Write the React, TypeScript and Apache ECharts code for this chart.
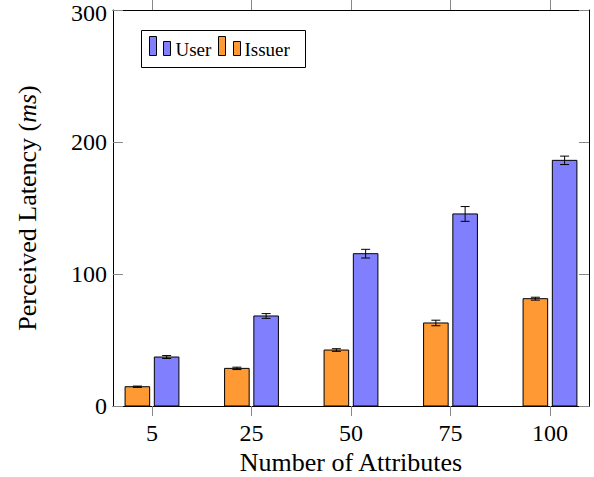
import React, { useEffect, useRef } from "react";
import * as echarts from "echarts";

const categories = ["5", "25", "50", "75", "100"];
const issuerValues = [14.6, 28.5, 42.4, 62.9, 81.3];
const issuerErrors = [0.5, 0.9, 1.0, 2.1, 1.1];
const userValues = [37.1, 68.2, 115.4, 145.5, 186.1];
const userErrors = [1.1, 1.8, 3.3, 5.6, 3.2];
const yTicks = [0, 100, 200, 300];

const FONT = "'Liberation Serif', 'Times New Roman', serif";
const ORANGE = "#ff9933";
const BLUE = "#8080ff";
const BAR_W = 0.247;
const OFFSET = 0.147;
const CAP = 4.5;

function makeRender(off: number, color: string) {
  return (params: any, api: any) => {
    const x = api.value(0);
    const y = api.value(1);
    const e = api.value(2);
    const top = api.coord([x + off, y]);
    const base = api.coord([x + off, 0]);
    const hi = api.coord([x + off, y + e]);
    const lo = api.coord([x + off, y - e]);
    const w = api.size([BAR_W, 0])[0];
    const cx = top[0];
    return {
      type: "group",
      children: [
        {
          type: "rect",
          shape: { x: cx - w / 2, y: top[1], width: w, height: base[1] - top[1] },
          style: { fill: color, stroke: "#000", lineWidth: 1 },
        },
        {
          type: "line",
          shape: { x1: cx, y1: hi[1], x2: cx, y2: lo[1] },
          style: { stroke: "#000", lineWidth: 1 },
        },
        {
          type: "line",
          shape: { x1: cx - CAP, y1: hi[1], x2: cx + CAP, y2: hi[1] },
          style: { stroke: "#000", lineWidth: 1 },
        },
        {
          type: "line",
          shape: { x1: cx - CAP, y1: lo[1], x2: cx + CAP, y2: lo[1] },
          style: { stroke: "#000", lineWidth: 1 },
        },
      ],
    };
  };
}

export default function App() {
  const ref = useRef<HTMLDivElement>(null);
  useEffect(() => {
    if (!ref.current) return;
    const chart = echarts.init(ref.current, null, { renderer: "svg" });
    const idx = categories.map((_, i) => i);
    const tickStyle = { color: "#888", width: 1 };
    const lineStyle = { color: "#000", width: 1 };
    const yMax = yTicks[yTicks.length - 1];
    const option: any = {
      animation: false,
      grid: { left: 113, right: 5, top: 10, bottom: 71, containLabel: false, outerBoundsMode: "none" },
      xAxis: [
        {
          type: "value",
          position: "bottom",
          min: -0.392,
          max: 4.392,
          axisLine: { show: true, onZero: false, lineStyle },
          axisTick: { show: true, customValues: idx, inside: false, length: 10, lineStyle: tickStyle },
          axisLabel: {
            show: true,
            customValues: idx,
            formatter: (v: number) => categories[Math.round(v)] ?? "",
            fontFamily: FONT,
            fontSize: 24,
            lineHeight: 20,
            color: "#000",
            margin: 17,
          },
          splitLine: { show: false },
          name: "Number of Attributes",
          nameLocation: "middle",
          nameGap: 42,
          nameTextStyle: { fontFamily: FONT, fontSize: 26, lineHeight: 20, color: "#000" },
        },
        {
          type: "value",
          position: "top",
          min: -0.392,
          max: 4.392,
          axisLine: { show: true, onZero: false, lineStyle },
          axisTick: { show: true, customValues: idx, inside: false, length: 10, lineStyle: tickStyle },
          axisLabel: { show: false },
          splitLine: { show: false },
        },
      ],
      yAxis: [
        {
          type: "value",
          position: "left",
          min: 0,
          max: 300,
          interval: 100,
          axisLine: { show: true, onZero: false, lineStyle },
          axisTick: { show: true, customValues: yTicks, inside: true, length: 10, lineStyle: tickStyle },
          axisLabel: {
            show: true,
            customValues: yTicks,
            formatter: (v: number) => (v === yMax ? `{t|${v}}` : `{n|${v}}`),
            rich: {
              n: { fontFamily: FONT, fontSize: 24, lineHeight: 18, color: "#000" },
              t: { fontFamily: FONT, fontSize: 24, lineHeight: 18, color: "#000", padding: [6, 0, 0, 0] },
            },
            fontFamily: FONT,
            fontSize: 24,
            color: "#000",
            margin: 6,
          },
          splitLine: { show: false },
          name: "{a|Perceived Latency (}{i|ms}{a|)}",
          nameLocation: "middle",
          nameGap: 73,
          nameTextStyle: {
            rich: {
              a: { fontFamily: FONT, fontSize: 26, color: "#000" },
              i: { fontFamily: FONT, fontSize: 26, color: "#000", fontStyle: "italic" },
            },
          },
        },
        {
          type: "value",
          position: "right",
          min: 0,
          max: 300,
          interval: 100,
          axisLine: { show: true, onZero: false, lineStyle },
          axisTick: { show: true, customValues: yTicks, inside: true, length: 10, lineStyle: tickStyle },
          axisLabel: { show: false },
          splitLine: { show: false },
        },
      ],
      series: [
        {
          name: "Issuer",
          type: "custom",
          xAxisIndex: 0,
          yAxisIndex: 0,
          encode: { x: 0, y: 1 },
          renderItem: makeRender(-OFFSET, ORANGE),
          data: issuerValues.map((v, i) => [i, v, issuerErrors[i]]),
          clip: true,
        },
        {
          name: "User",
          type: "custom",
          xAxisIndex: 0,
          yAxisIndex: 0,
          encode: { x: 0, y: 1 },
          renderItem: makeRender(OFFSET, BLUE),
          data: userValues.map((v, i) => [i, v, userErrors[i]]),
          clip: true,
        },
      ],
      graphic: [
        {
          type: "group",
          left: 141,
          top: 30,
          children: [
            {
              type: "rect",
              shape: { x: 0, y: 0, width: 164, height: 37 },
              style: { fill: "#fff", stroke: "#000", lineWidth: 1 },
            },
            { type: "rect", shape: { x: 8, y: 6, width: 7, height: 19 }, style: { fill: BLUE, stroke: "#000", lineWidth: 1 } },
            { type: "rect", shape: { x: 22, y: 11, width: 7, height: 14 }, style: { fill: BLUE, stroke: "#000", lineWidth: 1 } },
            {
              type: "text",
              x: 34,
              y: 19,
              style: { text: "User", fontFamily: FONT, fontSize: 19, fill: "#000", verticalAlign: "middle" },
            },
            { type: "rect", shape: { x: 77, y: 6, width: 7, height: 19 }, style: { fill: ORANGE, stroke: "#000", lineWidth: 1 } },
            { type: "rect", shape: { x: 92, y: 11, width: 7, height: 14 }, style: { fill: ORANGE, stroke: "#000", lineWidth: 1 } },
            {
              type: "text",
              x: 103,
              y: 19,
              style: { text: "Issuer", fontFamily: FONT, fontSize: 19, fill: "#000", verticalAlign: "middle" },
            },
          ],
        },
      ],
    };
    chart.setOption(option);
    return () => chart.dispose();
  }, []);
  return (
    <div
      ref={ref}
      style={{ position: "fixed", left: 0, top: 0, width: 594, height: 477, background: "#fff" }}
    />
  );
}
